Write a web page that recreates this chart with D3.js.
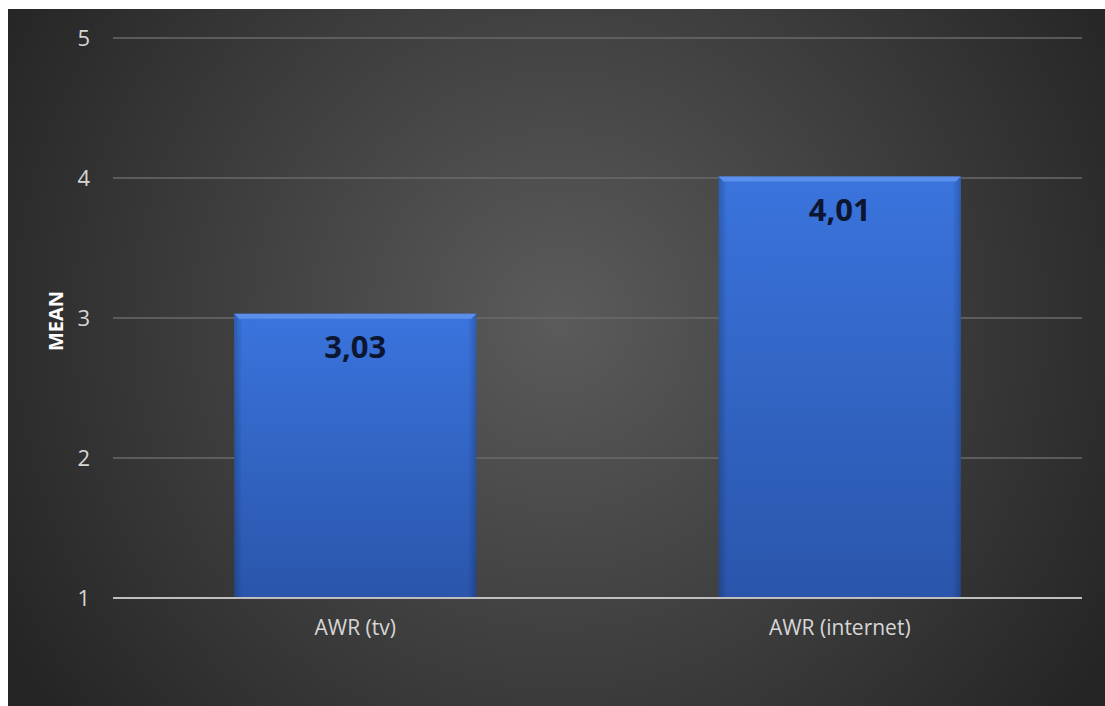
<!DOCTYPE html>
<html><head><meta charset="utf-8">
<script src="https://cdn.jsdelivr.net/npm/d3@7"></script>
<style>html,body{margin:0;padding:0;background:#fff;}svg{display:block;}</style>
</head><body>
<svg id="chart" width="1105" height="706"></svg>
<script>
const categories = ["AWR (tv)", "AWR (internet)"];
const values = [3.03, 4.01];
const valueLabels = ["3,03", "4,01"];
const yTicks = [1, 2, 3, 4, 5];
const yTitle = "MEAN";

const svg = d3.select("#chart");
const W = 1105, H = 706;
const defs = svg.append("defs");
const bg = defs.append("radialGradient").attr("id","bg").attr("gradientUnits","userSpaceOnUse")
  .attr("cx",560).attr("cy",320).attr("r",640);
bg.append("stop").attr("offset","0").attr("stop-color","#5b5b5b");
bg.append("stop").attr("offset","1").attr("stop-color","#252525");
const bar = defs.append("linearGradient").attr("id","bar").attr("x1",0).attr("y1",0).attr("x2",0).attr("y2",1);
bar.append("stop").attr("offset","0").attr("stop-color","#3a74dd");
bar.append("stop").attr("offset","1").attr("stop-color","#2a55ab");
const side = defs.append("linearGradient").attr("id","side").attr("x1",0).attr("y1",0).attr("x2",1).attr("y2",0);
side.append("stop").attr("offset","0").attr("stop-color","#000").attr("stop-opacity",0.2);
side.append("stop").attr("offset","0.035").attr("stop-color","#000").attr("stop-opacity",0);
side.append("stop").attr("offset","0.965").attr("stop-color","#000").attr("stop-opacity",0);
side.append("stop").attr("offset","1").attr("stop-color","#000").attr("stop-opacity",0.2);

svg.append("rect").attr("x",8).attr("y",9).attr("width",W-8).attr("height",H-9).attr("fill","url(#bg)");

const m = {left:113, right:1082, top:38, bottom:598};
const x = d3.scaleBand().domain(categories).range([m.left, m.right]).paddingInner(0.5).paddingOuter(0.25);
const y = d3.scaleLinear().domain([1,5]).range([m.bottom, m.top]);

const font = "'Open Sans', sans-serif";

// gridlines
svg.append("g").selectAll("line").data(yTicks.filter(t=>t>1)).join("line")
  .attr("x1",m.left).attr("x2",m.right).attr("y1",d=>y(d)).attr("y2",d=>y(d))
  .attr("stroke","#6a6a6a").attr("stroke-width",1.5);

// y tick labels
const yAxis = d3.axisLeft(y).tickValues(yTicks).tickSize(0).tickPadding(23).tickFormat(d3.format("d"));
const ga = svg.append("g").attr("transform",`translate(${m.left},0)`).call(yAxis);
ga.select(".domain").remove();
ga.selectAll("text").attr("fill","#d6d6d6").style("font-family",font).style("font-size","22px");

// bars
const bars = svg.append("g").selectAll("g").data(categories).join("g");
bars.append("rect").attr("x",d=>x(d)).attr("y",(d,i)=>y(values[i]))
  .attr("width",x.bandwidth()).attr("height",(d,i)=>y(1)-y(values[i])).attr("fill","url(#bar)");
bars.append("rect").attr("x",d=>x(d)).attr("y",(d,i)=>y(values[i]))
  .attr("width",x.bandwidth()).attr("height",(d,i)=>y(1)-y(values[i])).attr("fill","url(#side)");
// bevel top
bars.append("path").attr("d",(d,i)=>{
  const x0=x(d), x1=x(d)+x.bandwidth(), t=y(values[i]), b=5;
  return `M${x0},${t}L${x1},${t}L${x1-b},${t+b}L${x0+b},${t+b}Z`;
}).attr("fill","#5a90ec");

// value labels
bars.append("text").attr("x",d=>x(d)+x.bandwidth()/2).attr("y",(d,i)=>y(values[i])+44)
  .attr("text-anchor","middle").attr("fill","#0c1631")
  .style("font-family",font).style("font-size","31px").style("font-weight","bold")
  .text((d,i)=>valueLabels[i]);

// baseline
svg.append("line").attr("x1",m.left).attr("x2",m.right).attr("y1",y(1)).attr("y2",y(1))
  .attr("stroke","#bfbfbf").attr("stroke-width",2);

// x labels
const xAxis = d3.axisBottom(x).tickSize(0).tickPadding(22);
const gx = svg.append("g").attr("transform",`translate(0,${m.bottom})`).call(xAxis);
gx.select(".domain").remove();
gx.selectAll("text").attr("fill","#d6d6d6").style("font-family",font).style("font-size","21px");

// y title
svg.append("text").attr("transform",`translate(63,${(m.top+m.bottom)/2+3}) rotate(-90)`)
  .attr("text-anchor","middle").attr("fill","#ffffff")
  .style("font-family",font).style("font-size","20px").style("font-weight","bold").text(yTitle);
</script>
</body></html>
